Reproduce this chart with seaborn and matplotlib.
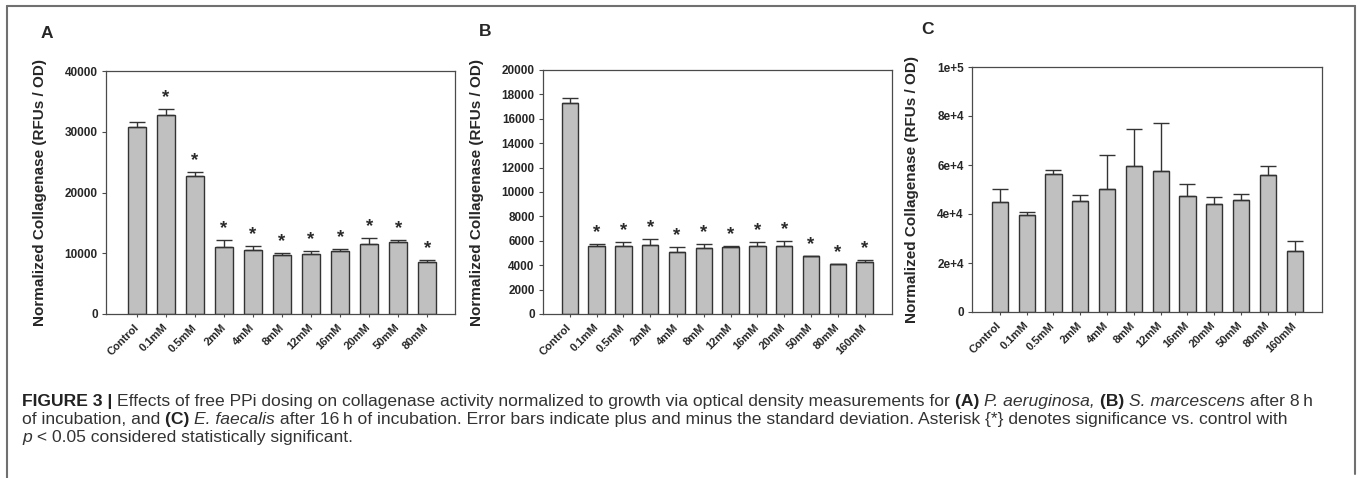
import numpy as np
import pandas as pd
import matplotlib
matplotlib.use("Agg")
import matplotlib.pyplot as plt
from matplotlib.lines import Line2D
import seaborn as sns

# ---- data -------------------------------------------------------------
A_LABELS = ["Control", "0.1mM", "0.5mM", "2mM", "4mM", "8mM", "12mM",
            "16mM", "20mM", "50mM", "80mM"]
A_VALUES = [30750, 32700, 22750, 11050, 10500, 9650, 9950, 10300, 11500, 11800, 8550]
A_ERRORS = [800, 1000, 650, 1050, 650, 450, 450, 380, 1050, 330, 330]
A_SIGNIF = [False] + [True] * 10

B_LABELS = ["Control", "0.1mM", "0.5mM", "2mM", "4mM", "8mM", "12mM",
            "16mM", "20mM", "50mM", "80mM", "160mM"]
B_VALUES = [17300, 5600, 5550, 5680, 5110, 5380, 5490, 5550, 5600, 4730, 4070, 4290]
B_ERRORS = [440, 160, 330, 440, 410, 380, 60, 330, 350, 0, 0, 160]
B_SIGNIF = [False] + [True] * 11

C_LABELS = B_LABELS
C_VALUES = [44900, 39700, 56300, 45400, 50300, 59600, 57400, 47300, 44100, 45700, 56100, 25000]
C_ERRORS = [5300, 1200, 1500, 2200, 13900, 15200, 19600, 4900, 3000, 2500, 3500, 3800]
C_SIGNIF = [False] * 12

A_YTICKS = [0, 10000, 20000, 30000, 40000]
A_YTICK_LABELS = ["0", "10000", "20000", "30000", "40000"]
B_YTICKS = list(range(0, 20001, 2000))
B_YTICK_LABELS = [str(v) for v in B_YTICKS]
C_YTICKS = [0, 20000, 40000, 60000, 80000, 100000]
C_YTICK_LABELS = ["0", "2e+4", "4e+4", "6e+4", "8e+4", "1e+5"]

Y_LABEL = "Normalized Collagenase (RFUs / OD)"

# ---- style ------------------------------------------------------------
sns.set_style("white")
plt.rcParams["font.family"] = ["Liberation Sans", "DejaVu Sans"]

W, H = 1362, 478
fig = plt.figure(figsize=(W / 100, H / 100), dpi=100)
fig.patch.set_facecolor("white")

BAR_FILL = "#c0c0c0"
EDGE = "#333333"
SPINE = "#4a4a4a"


def px_box(left, right, top, bottom):
    return [left / W, 1 - bottom / H, (right - left) / W, (bottom - top) / H]


def panel(box, labels, values, errors, signif, yticks, yticklabels, ylim,
          xlim, width, letter, letter_xy, ylabel_x):
    ax = fig.add_axes(box)
    df = pd.DataFrame({"dose": labels, "value": values})
    sns.barplot(data=df, x="dose", y="value", order=labels, ax=ax,
                color=BAR_FILL, saturation=1, width=width, errorbar=None,
                edgecolor=EDGE, linewidth=1.0, zorder=2)
    x = np.arange(len(labels))
    ax.errorbar(x, values, yerr=[np.zeros(len(values)), errors], fmt="none",
                ecolor=EDGE, elinewidth=1.0, capsize=5.5, capthick=1.0, zorder=3)
    for xi, v, e, s in zip(x, values, errors, signif):
        if s:
            ax.annotate("*", xy=(xi, v + e), xytext=(0, 5),
                        textcoords="offset points", ha="center", va="baseline",
                        fontsize=13.5, fontweight="bold", color="#2a2a2a")
    ax.set_xlim(*xlim)
    ax.set_ylim(*ylim)
    ax.set_yticks(yticks)
    ax.set_yticklabels(yticklabels, fontsize=8.5, fontweight="bold")
    ax.set_xticks(x)
    ax.set_xticklabels(labels, rotation=45, ha="right", va="center",
                       rotation_mode="anchor", fontsize=8, fontweight="bold")
    ax.tick_params(axis="y", direction="out", length=3, width=0.8,
                   color=SPINE, pad=3, left=True)
    ax.tick_params(axis="x", direction="out", length=2.5, width=0.8,
                   color=SPINE, pad=6, bottom=True)
    for sp in ax.spines.values():
        sp.set_visible(True)
        sp.set_color(SPINE)
        sp.set_linewidth(0.9)
    ax.set_xlabel("")
    ax.set_ylabel(Y_LABEL, fontsize=11, fontweight="bold")
    ax.yaxis.set_label_coords(ylabel_x, 0.5)
    fig.text(letter_xy[0] / W, 1 - letter_xy[1] / H, letter, fontsize=12.5,
             fontweight="bold", ha="center", va="center")
    return ax


panel(px_box(106, 455, 71, 314), A_LABELS, A_VALUES, A_ERRORS, A_SIGNIF,
      A_YTICKS, A_YTICK_LABELS, (0, 40000), (-1.07, 10.96), 0.62,
      "A", (47, 33), -0.169)
panel(px_box(543, 892, 70, 314), B_LABELS, B_VALUES, B_ERRORS, B_SIGNIF,
      B_YTICKS, B_YTICK_LABELS, (0, 20000), (-1.0, 12.02), 0.61,
      "B", (485, 31), -0.169)
panel(px_box(972, 1322, 67, 312), C_LABELS, C_VALUES, C_ERRORS, C_SIGNIF,
      C_YTICKS, C_YTICK_LABELS, (0, 100000), (-1.04, 12.02), 0.6,
      "C", (927, 30), -0.151)

# ---- frame around the figure -------------------------------------------
FRAME = "#707070"
for xs, ys in [((7, 7), (6, 478)), ((7, 1355), (6, 6)), ((1355, 1355), (6, 474))]:
    fig.add_artist(Line2D([x / W for x in xs], [1 - y / H for y in ys],
                          transform=fig.transFigure, color=FRAME, lw=1.5))

# ---- caption -----------------------------------------------------------
CAPTION = [
    [("FIGURE 3 | ", "bold"),
     ("Effects of free PPi dosing on collagenase activity normalized to growth "
      "via optical density measurements for ", "normal"),
     ("(A) ", "bold"), ("P. aeruginosa, ", "italic"), ("(B) ", "bold"),
     ("S. marcescens", "italic"), (" after 8\u2009h", "normal")],
    [("of incubation, and ", "normal"), ("(C) ", "bold"), ("E. faecalis", "italic"),
     (" after 16\u2009h of incubation. Error bars indicate plus and minus the "
      "standard deviation. Asterisk {*} denotes significance vs. control with",
      "normal")],
    [("p", "italic"), (" < 0.05 considered statistically significant.", "normal")],
]
CAP_X0 = 22
CAP_BASELINES = [406, 424, 442]
CAP_WIDTH = 1300
CAP_COLOR = "#333333"

renderer = fig.canvas.get_renderer()


def draw_line(segments, x0, baseline, size):
    x = x0
    made = []
    for txt, style in segments:
        kw = dict(fontsize=size, color=CAP_COLOR if style != "bold" else "#222222",
                  va="baseline", ha="left")
        if style == "bold":
            kw["fontweight"] = "bold"
        elif style == "italic":
            kw["fontstyle"] = "italic"
        t = fig.text(x / W, 1 - baseline / H, txt, **kw)
        bb = t.get_window_extent(renderer=renderer)
        x += bb.width
        made.append(t)
    return x - x0, made


size = 10.5
width, made = draw_line(CAPTION[0], CAP_X0, CAP_BASELINES[0], size)
for t in made:
    t.remove()
size = size * CAP_WIDTH / width
for seg, base in zip(CAPTION, CAP_BASELINES):
    draw_line(seg, CAP_X0, base, size)

fig.savefig("out.png", dpi=100, facecolor="white")
